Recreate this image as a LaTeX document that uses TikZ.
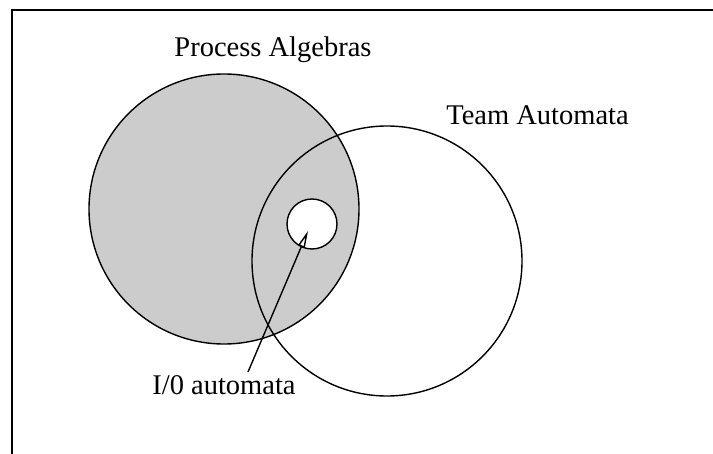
\documentclass[tikz,border=0pt]{standalone}
\usepackage{fontspec}
\setmainfont{Liberation Serif}
\usetikzlibrary{arrows.meta}
\begin{document}
\begin{tikzpicture}[x=1pt,y=-1pt,
  line width=1.4pt,
  region/.style={circle,draw,inner sep=0pt,minimum size=#1},
  lbl/.style={anchor=base,inner sep=0pt,font=\fontsize{28.5}{34}\selectfont},
  pointer/.style={-{Triangle[length=17pt,width=7pt,fill=white]}}]
\useasboundingbox (0,0) rectangle (713,454);
% frame edges
\draw (12,454) -- (12,10) -- (713,10);
% sets
\node[region=270pt,fill=black!20] (pa) at (224,209) {};
\node[region=270pt] (ta) at (387,261) {};
\node[region=50pt,fill=white] (io) at (312,224) {};
% labels
\node[lbl] (palbl) at (273,57) {Process Algebras};
\node[lbl] (talbl) at (537.5,125) {Team Automata};
\node[lbl] (iolbl) at (224,395) {I/0 automata};
% pointer from the label into the small set
\coordinate (tail) at (248,372);
\coordinate (tip) at (308,231);
\draw[pointer] (tail) -- (tip);
\end{tikzpicture}
\end{document}
